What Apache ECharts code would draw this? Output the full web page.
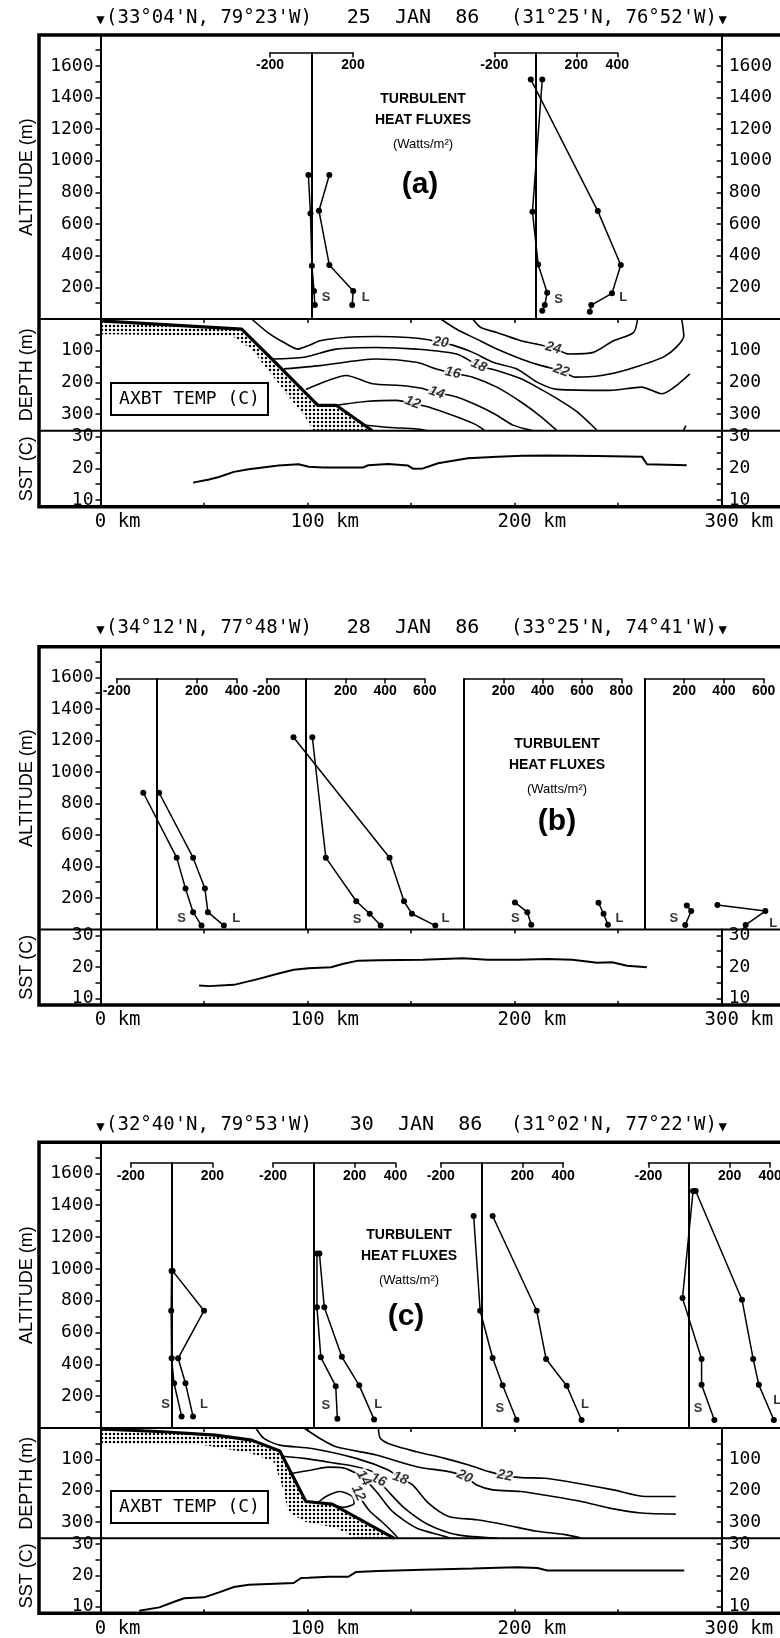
<!DOCTYPE html>
<html>
<head>
<meta charset="utf-8">
<title>Turbulent heat fluxes, AXBT temperature and SST - 25, 28, 30 JAN 86</title>
<script src="https://cdn.jsdelivr.net/npm/echarts@6/dist/echarts.min.js"></script>
<style>
html, body { margin: 0; padding: 0; background: #fff; }
#chart { width: 780px; height: 1638px; }
</style>
</head>
<body>
<div id="chart"></div>
<script>
// ---- axes (shared by the three panels) ----
const ALT_MAX = 1795, DEPTH_MAX = 352, SST_MIN = 7.9, SST_MAX = 31.9;
const KM_TICKS = [0, 50, 100, 150, 200, 250, 300];
const KM_LABELS = [0, 100, 200, 300];
const TOP_TICKS = [50, 100, 150, 200, 250];
const ALT_TICKS = [100, 200, 300, 400, 500, 600, 700, 800, 900, 1000, 1100, 1200, 1300, 1400, 1500, 1600, 1700];
const ALT_LABELS = [200, 400, 600, 800, 1000, 1200, 1400, 1600];
const DEPTH_TICKS = [50, 100, 150, 200, 250, 300];
const DEPTH_LABELS = [100, 200, 300];
const SST_TICKS = [10, 15, 20, 25, 30];
const SST_LABELS = [10, 20, 30];

// ---- (a) 25 JAN 86 : flux profiles (W/m2 vs altitude m) ----
const a1SensAlt = [910, 667, 337, 177, 88], a1SensFlux = [-15, -5, 2, 12, 16];
const a1LatAlt = [910, 684, 341, 177, 88], a1LatFlux = [86, 36, 86, 201, 196];
const a1Tags = [[70, 135], [261, 135]];
const a2SensAlt = [1514, 678, 345, 166, 88, 52], a2SensFlux = [34, -14, 14, 58, 46, 34];
const a2LatAlt = [1514, 682, 341, 162, 88, 46], a2LatFlux = [-22, 305, 417, 374, 273, 266];
const a2Tags = [[113, 126], [429, 135]];

// (a) AXBT section: [km, depth m]
const aBathy = [[0, 6], [68.2, 32], [82.7, 126], [105, 272], [113.8, 272], [131.3, 352]];
const aShelfBase = [[103, 352], [98.3, 303], [88.6, 225], [73, 95], [63.3, 53], [0, 48]];
const aC24 = [[179.8, 0], [183.7, 27], [191.4, 42.7], [203.1, 68.8], [210.8, 79.2], [218.6, 91.7], [226.4, 110.4], [238, 105.2], [247.7, 68.8], [257.4, 42.7], [259.4, 0]];
const aC22 = [[164.3, 0], [172, 32.3], [181.7, 63.5], [191.4, 94.8], [203.1, 126], [212.8, 146.9], [222.5, 162.5], [229.3, 183.3], [241.9, 178.1], [255.5, 157.3], [273, 115.6], [281.7, 53.1], [280.7, 0]];
const aC20 = [[73, 0], [80.8, 42.7], [88.6, 74], [95.4, 94.8], [100.2, 84.4], [106, 68.8], [117.7, 58.3], [133.2, 55.2], [148.7, 58.3], [158.4, 65.6], [164.3, 74], [170.1, 82.3], [179.8, 105.2], [189.5, 136.5], [201.1, 157.3], [210.8, 199], [220.5, 221.9], [245.8, 225], [261.3, 214.6], [271, 235.4], [284.6, 172.9]];
const aC18 = [[82.7, 126], [98.3, 120.8], [113.8, 94.8], [133.2, 89.6], [152.6, 94.8], [172, 110.4], [182.7, 146.9], [191.4, 162.5], [203.1, 188.5], [210.8, 214.6], [220.5, 251], [230.2, 292.7], [240, 352]];
const aC16 = [[88.6, 157.3], [106, 146.9], [133.2, 126], [152.6, 136.5], [162.3, 157.3], [170.1, 169.8], [179.8, 183.3], [191.4, 214.6], [203.1, 261.5], [212.8, 308.3], [220.5, 352]];
const aC14 = [[99.2, 221.9], [109.9, 193.8], [118.6, 178.1], [131.3, 204.2], [144.8, 209.4], [154.6, 217.7], [162.3, 232.3], [172, 245.8], [183.7, 277.1], [191.4, 303.1], [199.2, 334.4], [208.9, 352]];
const aC12 = [[113.8, 272], [129.3, 259.4], [142.9, 256.3], [150.7, 266.7], [158.4, 277.1], [172, 308.3], [181.7, 334.4], [185.6, 352]];
const aCDeep = [[128, 335], [140, 342], [152, 346], [158, 352]];
const aCEdge = [[282.7, 336], [281.5, 352]];
const aLabels = [[164.3, 74, '20'], [218.6, 91.7, '24'], [182.7, 146.9, '18'], [222.5, 162.5, '22'], [170.1, 169.8, '16'], [162.3, 232.3, '14'], [150.7, 263.5, '12']];
const aLabelTilt = [-8, -15, -25, -20, -12, -20, -20];

// (a) SST
const aSstKm = [44.7, 52.4, 57.2, 64.4, 71.6, 81.2, 86.0, 95.7, 100.5, 107.7, 126.9, 129.3, 138.9, 148.5, 150.9, 155.8, 163.0, 177.4, 191.8, 203.8, 215.8, 239.9, 261.5, 263.9, 283.1];
const aSstVal = [15.5, 16.5, 17.3, 18.9, 19.7, 20.5, 20.9, 21.3, 20.5, 20.3, 20.3, 21.0, 21.4, 20.9, 19.9, 20.0, 21.6, 23.2, 23.7, 24.0, 24.1, 23.9, 23.7, 21.3, 21.0];

// ---- (b) 28 JAN 86 ----
const b1SensAlt = [868, 456, 260, 110, 25], b1SensFlux = [-67, 100, 144, 182, 224];
const b1LatAlt = [868, 456, 260, 110, 25], b1LatFlux = [12, 182, 241, 256, 336];
const b1Tags = [[125, 68], [398, 68]];
const b2SensAlt = [1220, 456, 179, 100, 25], b2SensFlux = [32, 100, 254, 322, 377];
const b2LatAlt = [1220, 456, 179, 100, 25], b2LatFlux = [-63, 422, 495, 535, 653];
const b2Tags = [[258, 62], [705, 68]];
const b3SensAlt = [172, 110, 30], b3SensFlux = [259, 322, 342];
const b3LatAlt = [170, 100, 30], b3LatFlux = [684, 710, 732];
const b3Tags = [[261, 68], [791, 68]];
const b4SensAlt = [153, 117, 29], b4SensFlux = [213, 235, 205];
const b4LatAlt = [155, 117, 29], b4LatFlux = [367, 608, 509];
const b4Tags = [[148, 68], [648, 38]];
const bSstKm = [47.6, 52.4, 64.4, 76.4, 86.0, 93.3, 100.5, 111.3, 117.3, 124.5, 134.1, 155.7, 175.0, 187.0, 201.4, 215.8, 227.9, 239.9, 247.1, 254.3, 263.9];
const bSstVal = [14.1, 13.9, 14.3, 16.2, 17.9, 19.1, 19.6, 19.9, 21.0, 22.0, 22.1, 22.3, 22.8, 22.3, 22.3, 22.5, 22.3, 21.3, 21.5, 20.4, 19.9];

// ---- (c) 30 JAN 86 ----
const c1SensAlt = [987, 737, 438, 281, 73], c1SensFlux = [0, -2, 0, 12, 49];
const c1LatAlt = [987, 737, 438, 281, 73], c1LatFlux = [5, 159, 32, 68, 105];
const c1Tags = [[-29, 148], [159, 148]];
const c2SensAlt = [1096, 758, 444, 263, 58], c2SensFlux = [15, 15, 34, 107, 115];
const c2LatAlt = [1096, 758, 447, 268, 54], c2LatFlux = [27, 51, 137, 222, 295];
const c2Tags = [[59, 141], [315, 148]];
const c3SensAlt = [1332, 737, 440, 268, 52], c3SensFlux = [-39, -7, 54, 103, 171];
const c3LatAlt = [1332, 737, 434, 265, 50], c3LatFlux = [54, 270, 316, 417, 490];
const c3Tags = [[90, 123], [507, 148]];
const c4SensAlt = [1489, 816, 434, 271, 50], c4SensFlux = [20, -32, 62, 62, 125];
const c4LatAlt = [1489, 806, 434, 271, 50], c4LatFlux = [33, 261, 316, 344, 418];
const c4Tags = [[45, 123], [435, 173]];

const cBathy = [[0, 3], [30, 12], [55.6, 22.8], [73, 38.7], [86.6, 73.6], [99.2, 234.5], [111.9, 243], [141.9, 352]];
const cShelfBase = [[123.5, 352], [113.8, 319.1], [98.3, 298], [90.5, 266.2], [88.6, 202.7], [83.7, 107.5], [73, 81], [49.7, 54.6], [0, 49.3]];
const cC22 = [[134.2, 0], [135.2, 33.4], [141, 54.6], [152.6, 75.8], [166.2, 96.9], [177.8, 118.1], [187.6, 139.2], [195.3, 152], [203.1, 158.3], [214.7, 160.4], [230.2, 176.3], [247.7, 197.4], [263.2, 218.6], [277.8, 218.6]];
const cC20 = [[98.3, 0], [106, 33.4], [113.8, 59.9], [133.2, 86.3], [152.6, 123.4], [168.1, 139.2], [175.9, 155.1], [181.7, 181.6], [189.5, 197.4], [203.1, 202.7], [218.6, 218.6], [232.2, 234.5], [245.8, 255.6], [261.3, 271.5], [277.8, 274.7]];
const cC18 = [[75, 0], [78.9, 33.4], [86.6, 54.6], [102.1, 65.2], [123.5, 96.9], [139, 134], [144.8, 160.4], [150.7, 181.6], [158.4, 239.8], [168.1, 282.1], [181.7, 292.7], [195.3, 308.6], [210.8, 329.7], [224.4, 340.3], [232.6, 352]];
const cC16 = [[87.9, 90], [98.3, 96.9], [113.8, 112.8], [123.5, 123.4], [131.3, 139.2], [134.2, 165.7], [139, 202.7], [146.8, 255.6], [158.4, 308.6], [172, 340.3], [191.8, 352]];
const cC14 = [[92.2, 145], [102.1, 134], [109.9, 125], [117.7, 128], [123.5, 144.5], [127, 160], [133.2, 202.7], [141, 266.2], [152.6, 319.1], [166.2, 345.6], [168.9, 352]];
const cC12Loop = [[105, 238], [108.9, 218.6], [115.7, 202.7], [121.6, 218.6], [122.5, 239.8], [117.7, 253], [111.9, 245], [105, 238]];
const cC12 = [[126, 228], [130, 265], [136, 300], [141, 332], [143.7, 352]];
const cLabels = [[195.3, 152, '22'], [175.9, 155.1, '20'], [144.8, 160.4, '18'], [134.2, 165.7, '16'], [127, 160, '14'], [124.5, 208, '12']];
const cLabelTilt = [-10, -25, -20, -25, -60, -65];

const cSstKm = [18.7, 28.4, 35.6, 40.4, 50.0, 57.2, 64.4, 71.6, 81.2, 93.3, 96.9, 100.5, 110.1, 119.7, 123.3, 134.1, 155.7, 179.8, 191.8, 201.4, 211.0, 215.8, 239.9, 281.9];
const cSstVal = [8.7, 9.8, 11.6, 12.7, 13.0, 14.6, 16.3, 17.0, 17.3, 17.6, 19.2, 19.3, 19.6, 19.6, 21.1, 21.4, 21.8, 22.2, 22.5, 22.6, 22.4, 21.6, 21.6, 21.6];

// ---------------------------------------------------------------
const MONO = '"DejaVu Sans Mono", monospace';
const SANS = '"Liberation Sans", Arial, sans-serif';
const AX_L = 100.5, AX_R = 721.7, FRAME_L = 39;

const panels = [
  {
    titleY: 18, top: 35, altBottom: 319, depthBottom: 430.7, sstBottom: 506.7, rightAlt: true, bracketAlt: 1685,
    west: '(33°04\'N, 79°23\'W)', date: '25  JAN  86', east: '(31°25\'N, 76°52\'W)', dateX: 413,
    boxes: [
      { range: [-200, 200], zero: 311.5, pxPerW: 0.2075, sens: [a1SensFlux, a1SensAlt], lat: [a1LatFlux, a1LatAlt], tags: a1Tags },
      { range: [-200, 400], zero: 535.3, pxPerW: 0.205, sens: [a2SensFlux, a2SensAlt], lat: [a2LatFlux, a2LatAlt], tags: a2Tags }
    ],
    section: { bathy: aBathy, shelf: aShelfBase, lines: [aC24, aC22, aC20, aC18, aC16, aC14, aC12, aCDeep, aCEdge], labels: aLabels, tilt: aLabelTilt },
    sst: [aSstKm, aSstVal],
    note: { x: 423, y: 99, tag: '(a)', tagX: 420, tagY: 185 },
    axbtY: 399
  },
  {
    titleY: 628, top: 646.7, altBottom: 929.5, depthBottom: null, sstBottom: 1005, rightAlt: false, bracketAlt: 1593,
    west: '(34°12\'N, 77°48\'W)', date: '28  JAN  86', east: '(33°25\'N, 74°41\'W)', dateX: 413,
    boxes: [
      { range: [-200, 400], zero: 156.7, pxPerW: 0.2, sens: [b1SensFlux, b1SensAlt], lat: [b1LatFlux, b1LatAlt], tags: b1Tags },
      { range: [-200, 600], zero: 306, pxPerW: 0.198, sens: [b2SensFlux, b2SensAlt], lat: [b2LatFlux, b2LatAlt], tags: b2Tags },
      { range: [0, 800], zero: 464, pxPerW: 0.1966, sens: [b3SensFlux, b3SensAlt], lat: [b3LatFlux, b3LatAlt], tags: b3Tags },
      { range: [0, 600], zero: 644.5, pxPerW: 0.1987, sens: [b4SensFlux, b4SensAlt], lat: [b4LatFlux, b4LatAlt], tags: b4Tags }
    ],
    section: null,
    sst: [bSstKm, bSstVal],
    note: { x: 557, y: 744, tag: '(b)', tagX: 557, tagY: 822 }
  },
  {
    titleY: 1125, top: 1142.3, altBottom: 1428, depthBottom: 1538.3, sstBottom: 1613.3, rightAlt: false, bracketAlt: 1666,
    west: '(32°40\'N, 79°53\'W)', date: '30  JAN  86', east: '(31°02\'N, 77°22\'W)', dateX: 416,
    boxes: [
      { range: [-200, 200], zero: 171.6, pxPerW: 0.204, sens: [c1SensFlux, c1SensAlt], lat: [c1LatFlux, c1LatAlt], tags: c1Tags },
      { range: [-200, 400], zero: 313.9, pxPerW: 0.204, sens: [c2SensFlux, c2SensAlt], lat: [c2LatFlux, c2LatAlt], tags: c2Tags },
      { range: [-200, 400], zero: 481.6, pxPerW: 0.204, sens: [c3SensFlux, c3SensAlt], lat: [c3LatFlux, c3LatAlt], tags: c3Tags },
      { range: [-200, 400], zero: 689, pxPerW: 0.203, sens: [c4SensFlux, c4SensAlt], lat: [c4LatFlux, c4LatAlt], tags: c4Tags }
    ],
    section: { bathy: cBathy, shelf: cShelfBase, lines: [cC22, cC20, cC18, cC16, cC14, cC12Loop, cC12], labels: cLabels, tilt: cLabelTilt },
    sst: [cSstKm, cSstVal],
    note: { x: 409, y: 1235, tag: '(c)', tagX: 406, tagY: 1317 },
    axbtY: 1507
  }
];

// stipple for the shelf
const dot = document.createElement('canvas');
dot.width = 4; dot.height = 4;
const dctx = dot.getContext('2d');
dctx.fillStyle = '#000';
dctx.beginPath(); dctx.arc(2, 2, 1.25, 0, Math.PI * 2); dctx.fill();
const stipple = { image: dot, repeat: 'repeat' };

const grids = [], xAxes = [], yAxes = [], series = [], graphics = [];
const black = '#000';

function frame(top, bottom, width) {
  grids.push({ left: FRAME_L, top: top, width: 800, height: bottom - top, show: true, outerBoundsMode: 'none',
    borderColor: black, borderWidth: width, backgroundColor: 'transparent' });
}
function addGrid(left, top, width, height) {
  grids.push({ left: left, top: top, width: width, height: height, outerBoundsMode: 'none', containLabel: false });
  return grids.length - 1;
}
function kmX(gi, extra) {
  xAxes.push(Object.assign({ type: 'value', gridIndex: gi, min: 0, max: 300,
    axisLine: { show: false }, axisTick: { show: false }, axisLabel: { show: false }, splitLine: { show: false } }, extra || {}));
  return xAxes.length - 1;
}
function sideY(gi, pos, min, max, inverse, ticks, labels, name) {
  yAxes.push({
    type: 'value', gridIndex: gi, position: pos, min: min, max: max, inverse: inverse,
    axisLine: { show: true, onZero: false, lineStyle: { color: black, width: 2 } },
    axisTick: { show: true, inside: pos === 'right', length: 5, customValues: ticks, lineStyle: { color: black, width: 1.5 } },
    axisLabel: { show: true, customValues: labels, margin: 7, color: black, fontFamily: MONO, fontSize: 18,
      showMinLabel: true, showMaxLabel: true, formatter: v => String(v) },
    splitLine: { show: false },
    name: pos === 'left' ? name : '', nameLocation: 'middle', nameRotate: 90, nameGap: 64,
    nameTextStyle: { fontFamily: SANS, fontSize: 18, color: black }
  });
  return yAxes.length - 1;
}
function text(x, y, str, font, align) {
  graphics.push({ type: 'text', x: x, y: y, silent: true, z: 20,
    style: { text: str, font: font, fill: black, align: align || 'center', verticalAlign: 'middle' } });
}
const zip = (a, b) => a.map((v, i) => [v, b[i]]);

panels.forEach(p => {
  // frames
  frame(p.top, p.sstBottom, 3.5);
  frame(p.top, p.altBottom, 2);
  if (p.depthBottom) frame(p.depthBottom, p.sstBottom, 2);

  // altitude panel
  const gAlt = addGrid(AX_L, p.top, AX_R - AX_L, p.altBottom - p.top);
  kmX(gAlt, { position: 'top', axisTick: { show: true, inside: true, length: 4, customValues: TOP_TICKS, lineStyle: { color: black, width: 1.5 } } });
  sideY(gAlt, 'left', 0, ALT_MAX, false, ALT_TICKS, ALT_LABELS, 'ALTITUDE (m)');
  if (p.rightAlt) sideY(gAlt, 'right', 0, ALT_MAX, false, ALT_TICKS, ALT_LABELS, '');

  // flux profiles: a bracket grid carrying the flux scale, and a wider data grid on the same scale
  const bracketTop = p.altBottom - p.bracketAlt * (p.altBottom - p.top) / ALT_MAX;
  const h = p.altBottom - bracketTop;
  p.boxes.forEach(b => {
    const gb = addGrid(b.zero + b.range[0] * b.pxPerW, bracketTop, (b.range[1] - b.range[0]) * b.pxPerW, h);
    xAxes.push({
      type: 'value', gridIndex: gb, position: 'top', min: b.range[0], max: b.range[1], interval: 200,
      axisLine: { show: true, onZero: false, lineStyle: { color: black, width: 1.6 } },
      axisTick: { show: true, inside: true, length: 5, lineStyle: { color: black, width: 1.5 } },
      axisLabel: { show: true, inside: true, margin: 6, fontFamily: SANS, fontSize: 14, fontWeight: 'bold', color: black,
        showMinLabel: true, showMaxLabel: true, formatter: v => (v === 0 ? '' : String(v)) },
      splitLine: { show: false }
    });
    yAxes.push({ type: 'value', gridIndex: gb, show: false, min: 0, max: p.bracketAlt });

    const dMin = b.range[0] - 200, dMax = b.range[1] + 200;
    const gd = addGrid(b.zero + dMin * b.pxPerW, bracketTop, (dMax - dMin) * b.pxPerW, h);
    xAxes.push({ type: 'value', gridIndex: gd, show: false, min: dMin, max: dMax });
    const xi = xAxes.length - 1;
    yAxes.push({ type: 'value', gridIndex: gd, show: false, min: 0, max: p.bracketAlt });
    const yi = yAxes.length - 1;

    const prof = (pair, withZero) => {
      const s = {
        type: 'line', xAxisIndex: xi, yAxisIndex: yi, data: zip(pair[0], pair[1]),
        symbol: 'circle', symbolSize: 6, showSymbol: true, silent: true, clip: false,
        lineStyle: { color: black, width: 1.5 }, itemStyle: { color: black }, z: 4
      };
      if (withZero) {
        s.markLine = { silent: true, symbol: ['none', 'none'], label: { show: false },
          lineStyle: { color: black, width: 2, type: 'solid' }, data: [{ xAxis: 0 }] };
      }
      series.push(s);
    };
    prof(b.sens, true);
    prof(b.lat, false);
    series.push({
      type: 'scatter', xAxisIndex: xi, yAxisIndex: yi, silent: true, symbolSize: 1, clip: false,
      itemStyle: { color: 'rgba(0,0,0,0)' }, z: 5,
      data: [{ value: b.tags[0], name: 'S' }, { value: b.tags[1], name: 'L' }],
      label: { show: true, position: 'inside', formatter: q => q.name, fontFamily: SANS, fontWeight: 'bold', fontSize: 13, color: black }
    });
  });

  // AXBT section
  if (p.section) {
    const sec = p.section;
    const gDep = addGrid(AX_L, p.altBottom, AX_R - AX_L, p.depthBottom - p.altBottom);
    const xd = kmX(gDep);
    const yd = sideY(gDep, 'left', 0, DEPTH_MAX, true, DEPTH_TICKS, DEPTH_LABELS, 'DEPTH (m)');
    sideY(gDep, 'right', 0, DEPTH_MAX, true, DEPTH_TICKS, DEPTH_LABELS, '');
    const shelfPoly = sec.bathy.concat(sec.shelf);
    series.push({
      type: 'custom', xAxisIndex: xd, yAxisIndex: yd, data: shelfPoly, silent: true, z: 2,
      renderItem: (params, api) => {
        if (params.dataIndex !== 0) return null;
        return { type: 'polygon', shape: { points: shelfPoly.map(pt => api.coord(pt)) }, style: { fill: stipple, stroke: null } };
      }
    });
    sec.lines.forEach(line => series.push({
      type: 'line', xAxisIndex: xd, yAxisIndex: yd, data: line, symbol: 'none', smooth: 0.25, silent: true,
      lineStyle: { color: black, width: 1.6 }, z: 3
    }));
    series.push({
      type: 'line', xAxisIndex: xd, yAxisIndex: yd, data: sec.bathy, symbol: 'none', silent: true,
      lineStyle: { color: black, width: 3.2 }, z: 3
    });
    series.push({
      type: 'scatter', xAxisIndex: xd, yAxisIndex: yd, symbolSize: 1, silent: true, z: 6,
      itemStyle: { color: 'rgba(0,0,0,0)' },
      data: sec.labels.map((l, i) => ({ value: [l[0], l[1]], name: l[2], label: { rotate: sec.tilt[i] } })),
      label: { show: true, position: 'inside', formatter: q => q.name, fontFamily: SANS, fontSize: 14, fontWeight: 'bold',
        fontStyle: 'italic', color: black, backgroundColor: '#fff', padding: [0, 1] }
    });
    graphics.push({ type: 'rect', silent: true, z: 19, shape: { x: 111, y: p.axbtY - 16, width: 157, height: 32 },
      style: { fill: '#fff', stroke: black, lineWidth: 2 } });
    text(189.5, p.axbtY, 'AXBT TEMP (C)', '18px ' + MONO);
  }

  // SST panel
  const sstTop = p.depthBottom || p.altBottom;
  const gS = addGrid(AX_L, sstTop, AX_R - AX_L, p.sstBottom - sstTop);
  const xs = kmX(gS, {
    position: 'bottom',
    axisTick: { show: true, inside: true, length: 4, customValues: KM_TICKS, lineStyle: { color: black, width: 1.5 } },
    axisLabel: { show: true, customValues: KM_LABELS, margin: 6, color: black, fontFamily: MONO, fontSize: 19,
      showMinLabel: true, showMaxLabel: true, formatter: v => '\u00a0\u00a0\u00a0' + v + ' km' }
  });
  const ys = sideY(gS, 'left', SST_MIN, SST_MAX, false, SST_TICKS, SST_LABELS, 'SST (C)');
  sideY(gS, 'right', SST_MIN, SST_MAX, false, SST_TICKS, SST_LABELS, '');
  series.push({
    type: 'line', xAxisIndex: xs, yAxisIndex: ys, data: zip(p.sst[0], p.sst[1]), symbol: 'none', silent: true,
    lineStyle: { color: black, width: 2 }, z: 3
  });

  // title row
  text(AX_L, p.titleY + 2, '\u25BC', '14px ' + MONO);
  text(106, p.titleY, p.west, '19px ' + MONO, 'left');
  text(p.dateX, p.titleY, p.date, '20px ' + MONO);
  text(717, p.titleY, p.east, '19px ' + MONO, 'right');
  text(AX_R + 1, p.titleY + 2, '\u25BC', '14px ' + MONO);

  // in-panel note
  text(p.note.x, p.note.y, 'TURBULENT', 'bold 14px ' + SANS);
  text(p.note.x, p.note.y + 21.5, 'HEAT FLUXES', 'bold 14px ' + SANS);
  text(p.note.x, p.note.y + 45, '(Watts/m\u00b2)', '13px ' + SANS);
  text(p.note.tagX, p.note.tagY, p.note.tag, 'bold 30px ' + SANS);
});

const chart = echarts.init(document.getElementById('chart'));
chart.setOption({
  animation: false,
  backgroundColor: '#fff',
  grid: grids,
  xAxis: xAxes,
  yAxis: yAxes,
  series: series,
  graphic: { elements: graphics }
});
window.addEventListener('resize', () => chart.resize());
</script>
</body>
</html>
